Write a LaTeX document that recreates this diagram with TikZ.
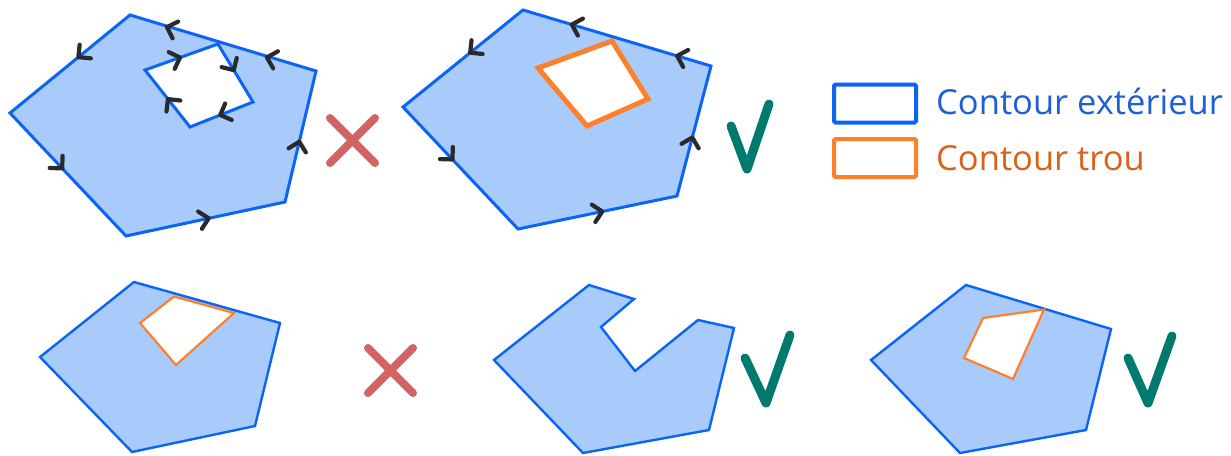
\documentclass[tikz,border=0pt]{standalone}
\usepackage{fontspec}
\setmainfont{Open Sans}
\usetikzlibrary{calc}
\definecolor{pfill}{HTML}{A9CBFC}
\definecolor{pblue}{HTML}{0A64F5}
\definecolor{porange}{HTML}{FF7F2A}
\definecolor{tblue}{HTML}{1F5FD6}
\definecolor{torange}{HTML}{D8621A}
\definecolor{xred}{HTML}{D46464}
\definecolor{vteal}{HTML}{00796E}
\definecolor{chevcol}{HTML}{2A2A2A}
\tikzset{
  outerA/.style={fill=pfill, draw=pblue, line width=3pt, line join=miter},
  outerB/.style={fill=pfill, draw=pblue, line width=2.4pt, line join=miter},
  holeblue/.style={fill=white, draw=pblue, line width=3pt},
  holethick/.style={fill=white, draw=porange, line width=5pt},
  holethin/.style={fill=white, draw=porange, line width=2.2pt},
  chevline/.style={draw=chevcol, line width=4.2pt, line cap=round, line join=round},
  crossmark/.style={draw=xred, line width=8pt, line cap=round},
  checkmark/.style={draw=vteal, line width=9pt, line cap=round, line join=round},
  legbox/.style={line width=4pt, rounded corners=1.5pt, fill=white},
}
% chevron on segment #1 -> #2 at fraction #3
\newcommand\chevr[3]{%
  \coordinate (cp) at ($(#1)!#3!(#2)$);
  \draw[chevline] ($(cp)!12.5pt!135:(#2)$) -- (cp) -- ($(cp)!12.5pt!-135:(#2)$);
}
\begin{document}
\begin{tikzpicture}[x=1pt,y=-1pt]
\useasboundingbox (0,0) rectangle (1231,455);
% ---------- Panel 1 ----------
\coordinate (aT) at (130,15); \coordinate (aR) at (316,71); \coordinate (aBR) at (285,202);
\coordinate (aB) at (126,236); \coordinate (aL) at (10,113);
\coordinate (ah1) at (145,70); \coordinate (aH) at (218,44); \coordinate (ah3) at (253,102); \coordinate (ah4) at (190,127);
\draw[outerA] (aT) -- (aL) -- (aB) -- (aBR) -- (aR) -- cycle;
\draw[holeblue] (ah1) -- (aH) -- (ah3) -- (ah4) -- cycle;
\chevr{aR}{aH}{0.5}
\chevr{aH}{aT}{0.58}
\chevr{aT}{aL}{0.43}
\chevr{aL}{aB}{0.45}
\chevr{aB}{aBR}{0.52}
\chevr{aBR}{aR}{0.46}
\chevr{ah1}{aH}{0.48}
\chevr{aH}{ah3}{0.45}
\chevr{ah3}{ah4}{0.52}
\chevr{ah4}{ah1}{0.49}
\coordinate (x1a) at (330,118); \coordinate (x1b) at (375,163);
\coordinate (x1c) at (375,118); \coordinate (x1d) at (330,163);
\draw[crossmark] (x1a) -- (x1b) (x1c) -- (x1d);
% ---------- Panel 2 ----------
\coordinate (bT) at (523,10); \coordinate (bR) at (711,66); \coordinate (bBR) at (677,196);
\coordinate (bB) at (518,229); \coordinate (bL) at (403,107);
\draw[outerA] (bT) -- (bL) -- (bB) -- (bBR) -- (bR) -- cycle;
\draw[holethick] (538,68) -- (612,41) -- (648,99) -- (587,126) -- cycle;
\chevr{bR}{bT}{0.18}
\chevr{bR}{bT}{0.74}
\chevr{bT}{bL}{0.44}
\chevr{bL}{bB}{0.43}
\chevr{bB}{bBR}{0.53}
\chevr{bBR}{bR}{0.45}
\coordinate (v1a) at (731,126); \coordinate (v1b) at (747,169); \coordinate (v1c) at (769,104);
\draw[checkmark] (v1a) -- (v1b) -- (v1c);
% ---------- Legend ----------
\node[legbox, draw=pblue, minimum width=82pt, minimum height=38pt, anchor=center] (lb1) at (875,103.5) {};
\node[legbox, draw=porange, minimum width=82pt, minimum height=38pt, anchor=center] (lb2) at (875,158) {};
\node[anchor=base west, inner sep=0pt, text=tblue, font=\fontsize{34.5}{40}\selectfont] (lt1) at (936,114) {Contour extérieur};
\node[anchor=base west, inner sep=0pt, text=torange, font=\fontsize{34.5}{40}\selectfont] (lt2) at (936,170) {Contour trou};
% ---------- Panel 3 ----------
\draw[outerB] (134,282) -- (40,357) -- (132,452) -- (255,426) -- (280,323) -- cycle;
\draw[holethin] (140,323) -- (174,296.5) -- (234,313) -- (176,365) -- cycle;
\coordinate (x2a) at (368,348); \coordinate (x2b) at (413,393);
\coordinate (x2c) at (413,348); \coordinate (x2d) at (368,393);
\draw[crossmark] (x2a) -- (x2b) (x2c) -- (x2d);
% ---------- Panel 4 ----------
\draw[outerB] (589,285) -- (634,299) -- (601,327) -- (635,371) -- (698,320) -- (734,328) -- (709,430) -- (583,453) -- (494,360) -- cycle;
\coordinate (v2a) at (745,358); \coordinate (v2b) at (766,403); \coordinate (v2c) at (790,335);
\draw[checkmark] (v2a) -- (v2b) -- (v2c);
% ---------- Panel 5 ----------
\draw[outerB] (966,285) -- (871,360) -- (960,453) -- (1086,430) -- (1111,329) -- cycle;
\draw[holethin] (983,318) -- (1044,309.5) -- (1013,379) -- (964,358) -- cycle;
\coordinate (v3a) at (1128,358); \coordinate (v3b) at (1148,403); \coordinate (v3c) at (1172,336);
\draw[checkmark] (v3a) -- (v3b) -- (v3c);
\end{tikzpicture}
\end{document}
